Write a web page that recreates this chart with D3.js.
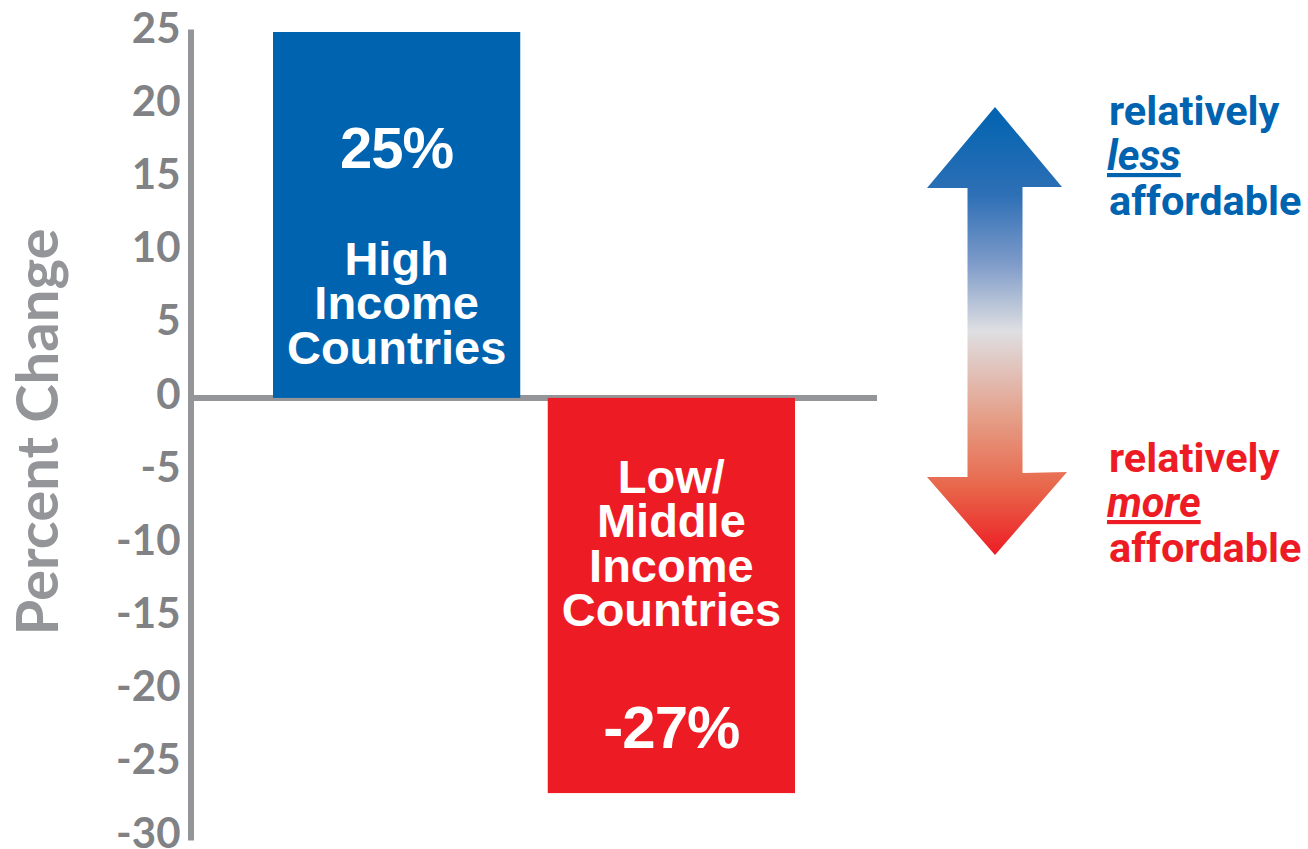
<!DOCTYPE html>
<html>
<head>
<meta charset="utf-8">
<script src="https://cdn.jsdelivr.net/npm/d3@7"></script>
<style>
  html, body { margin: 0; padding: 0; background: #fff; }
  svg { display: block; }
</style>
</head>
<body>
<svg id="chart" width="1308" height="849"></svg>
<script>
// Percent change by income group
const categories = ["High Income Countries", "Low/Middle Income Countries"];
const values = [25, -27];
const valueLabels = ["25%", "-27%"];
const categoryLines = [["High", "Income", "Countries"], ["Low/", "Middle", "Income", "Countries"]];
const tickValues = [25, 20, 15, 10, 5, 0, -5, -10, -15, -20, -25, -30];
const barColors = ["#0063b0", "#ed1c24"];

const gray = "#939598";
const tickGray = "#808285";
const blue = "#0063b0";
const red = "#ed1c24";

const svg = d3.select("#chart");

const axisX = 190.5;
const y = d3.scaleLinear().domain([-30, 25]).range([837, 32]);
const x = d3.scaleBand().domain(categories).range([273, 795]).paddingInner(0.1).paddingOuter(0);

// Y axis (plain hyphen for negatives)
const yAxis = d3.axisLeft(y)
  .tickValues(tickValues)
  .tickSize(0)
  .tickPadding(10)
  .tickFormat(d => String(d));

const gAxis = svg.append("g")
  .attr("transform", `translate(${axisX},0)`)
  .call(yAxis);

gAxis.select(".domain")
  .attr("stroke", gray)
  .attr("stroke-width", 6)
  .attr("stroke-linecap", "square");

gAxis.selectAll(".tick text")
  .attr("fill", tickGray)
  .attr("dy", "0.24em")
  .style("font-family", "Lato, 'Open Sans', sans-serif")
  .style("font-weight", 700)
  .style("font-size", "42px");

// Axis title
svg.append("text")
  .attr("transform", "translate(58,432) rotate(-90)")
  .attr("text-anchor", "middle")
  .attr("fill", gray)
  .style("font-family", "Lato, 'Open Sans', sans-serif")
  .style("font-weight", 700)
  .style("font-size", "58px")
  .text("Percent Change");

// Zero baseline
svg.append("line")
  .attr("x1", axisX + 3)
  .attr("x2", 877)
  .attr("y1", y(0))
  .attr("y2", y(0))
  .attr("stroke", gray)
  .attr("stroke-width", 6);

// Bars
const data = categories.map((c, i) => ({ c, v: values[i], label: valueLabels[i], lines: categoryLines[i], color: barColors[i] }));

svg.selectAll("rect.bar")
  .data(data)
  .join("rect")
  .attr("class", "bar")
  .attr("x", d => x(d.c))
  .attr("width", x.bandwidth())
  .attr("y", d => y(Math.max(0, d.v)))
  .attr("height", d => Math.abs(y(d.v) - y(0)))
  .attr("fill", d => d.color);

// Labels inside bars
const labelFont = "'Liberation Sans', Arial, sans-serif";
const lineH = 44.5;

function multiLine(g, cx, baseY, lines) {
  const t = g.append("text")
    .attr("x", cx)
    .attr("y", baseY)
    .style("font-size", "47px");
  lines.forEach((s, i) => {
    t.append("tspan")
      .attr("x", cx)
      .attr("dy", i === 0 ? 0 : lineH)
      .text(s);
  });
}

data.forEach(d => {
  const cx = x(d.c) + x.bandwidth() / 2;
  const g = svg.append("g")
    .attr("fill", "#fff")
    .attr("text-anchor", "middle")
    .style("font-family", labelFont)
    .style("font-weight", 700);

  if (d.v >= 0) {
    g.append("text")
      .attr("x", cx)
      .attr("y", y(d.v) + 136)
      .style("font-size", "58px")
      .style("letter-spacing", "-1px")
      .text(d.label);
    multiLine(g, cx, y(0) - 123, d.lines);
  } else {
    multiLine(g, cx, y(0) + 95, d.lines);
    g.append("text")
      .attr("x", cx)
      .attr("y", y(d.v) - 45)
      .style("font-size", "60px")
      .style("letter-spacing", "-1px")
      .text(d.label);
  }
});

// Double-headed gradient arrow
const defs = svg.append("defs");
const grad = defs.append("linearGradient")
  .attr("id", "arrowGrad")
  .attr("x1", 0).attr("x2", 0).attr("y1", 0).attr("y2", 1);
[
  [0, "#0063b0"],
  [0.2, "#2f70b6"],
  [0.35, "#7e9bc9"],
  [0.5, "#dedfe2"],
  [0.7, "#e59c85"],
  [0.85, "#e8664a"],
  [1, "#ed1c24"]
].forEach(([o, c]) => grad.append("stop").attr("offset", o).attr("stop-color", c));

const arrow = { cx: 995, top: 107, bottom: 555, headBase1: 188, headBase2: 474, headHalf: 68, shaftHalf: 27.5 };
const pts = [
  [arrow.cx, arrow.top],
  [arrow.cx + arrow.headHalf - 1, arrow.headBase1 - 1],
  [arrow.cx + arrow.shaftHalf, arrow.headBase1 - 1],
  [arrow.cx + arrow.shaftHalf, arrow.headBase2 - 1],
  [arrow.cx + arrow.headHalf + 4, arrow.headBase2 - 2],
  [arrow.cx, arrow.bottom],
  [arrow.cx - arrow.headHalf, arrow.headBase2 + 3],
  [arrow.cx - arrow.shaftHalf, arrow.headBase2 + 3],
  [arrow.cx - arrow.shaftHalf, arrow.headBase1],
  [arrow.cx - arrow.headHalf, arrow.headBase1]
];
svg.append("path")
  .attr("d", d3.line()(pts) + "Z")
  .attr("fill", "url(#arrowGrad)");

// Side annotations
const noteFont = "Roboto, 'Liberation Sans', sans-serif";
function note(x0, baseY, color, word) {
  const t = svg.append("text")
    .attr("x", x0)
    .attr("y", baseY)
    .attr("fill", color)
    .style("font-family", noteFont)
    .style("font-weight", 700)
    .style("font-size", "41.5px");
  t.append("tspan").attr("x", x0).text("relatively");
  t.append("tspan").attr("x", x0 - 2).attr("dy", 45)
    .style("font-style", "italic")
    .style("text-decoration", "underline")
    .text(word);
  t.append("tspan").attr("x", x0).attr("dy", 45).text("affordable");
}
note(1109, 125, blue, "less");
note(1109, 472, red, "more");
</script>
</body>
</html>
